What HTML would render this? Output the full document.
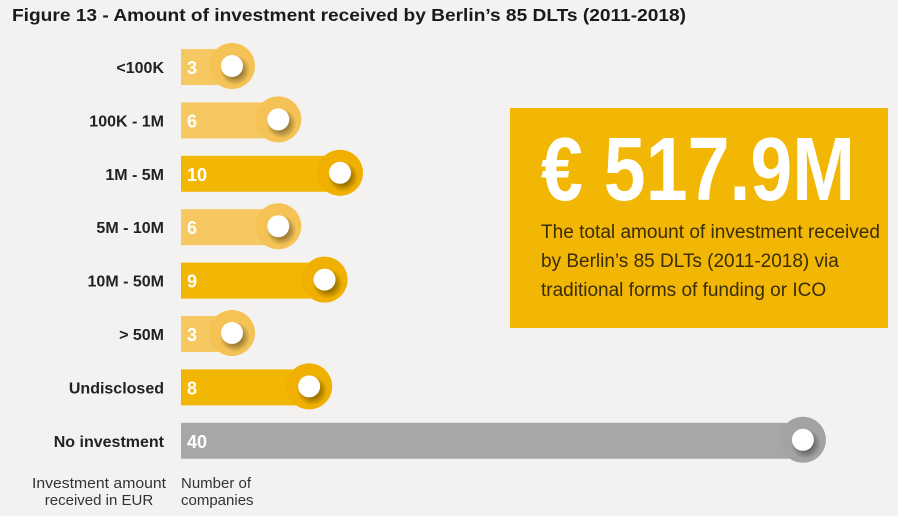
<!DOCTYPE html>
<html><head><meta charset="utf-8"><style>
html,body{margin:0;padding:0;background:#f4f2f0;}
svg{display:block;font-family:"Liberation Sans",sans-serif;}
</style></head><body>
<svg id="chart" width="898" height="516" viewBox="0 0 898 516">
<defs>
<radialGradient id="sh" cx="0.5" cy="0.5" r="0.5"><stop offset="0.5" stop-color="#000" stop-opacity="0.35"/><stop offset="1" stop-color="#000" stop-opacity="0"/></radialGradient>
</defs>
<text x="12" y="21" font-size="17.5" font-weight="bold" fill="#1a1a1a" textLength="674" lengthAdjust="spacingAndGlyphs">Figure 13  - Amount of investment received by Berlin’s 85 DLTs (2011-2018)</text>
<g id="bars"></g>
<text x="99" y="488" font-size="15" fill="#333" text-anchor="middle" textLength="134" lengthAdjust="spacingAndGlyphs">Investment amount</text>
<text x="99" y="505" font-size="15" fill="#333" text-anchor="middle">received in EUR</text>
<text x="181" y="488" font-size="15" fill="#333">Number of</text>
<text x="181" y="505" font-size="15" fill="#333">companies</text>
<rect x="510" y="108" width="378" height="220" fill="#f2b705"/>
<text x="541" y="200" font-size="90" font-weight="bold" fill="#fff" textLength="314" lengthAdjust="spacingAndGlyphs" style="font-family:'Liberation Sans Narrow','Liberation Sans',sans-serif">€ 517.9M</text>
<g font-size="19" fill="#3a2c05">
<text x="541" y="238" textLength="339" lengthAdjust="spacingAndGlyphs">The total amount of investment received</text>
<text x="541" y="267">by Berlin’s 85 DLTs (2011-2018) via</text>
<text x="541" y="296">traditional forms of funding or ICO</text>
</g>
</svg>
<script>
const categories = ["<100K","100K -  1M","1M - 5M","5M - 10M","10M - 50M","> 50M","Undisclosed","No investment"];
const counts = [3,6,10,6,9,3,8,40];
const tones = ["light","light","dark","light","dark","light","dark","gray"];
const NS="http://www.w3.org/2000/svg";
const g=document.getElementById('bars');
const x0=181;
function xEnd(v){return 208.7+15.43*v;}
function yC(i){return 67+i*53.4;}
const fills={light:["#f6c862","#f4c255"],dark:["#f2b705","#efb000"],gray:["#a7a7a7","#a3a3a3"]};
function mk(tag,attrs){const e=document.createElementNS(NS,tag);for(const k in attrs)e.setAttribute(k,attrs[k]);return e;}
categories.forEach((c,i)=>{
  const y=yC(i), end=xEnd(counts[i]), cx=end-23, f=fills[tones[i]];
  const grp=mk('g',{});
  
  
  grp.appendChild(mk('rect',{x:x0,y:y-18,width:cx-x0,height:36,fill:f[0]}));
  grp.appendChild(mk('circle',{cx:cx,cy:y-1,r:23,fill:f[1]}));
  grp.appendChild(mk('circle',{cx:cx+3,cy:y+3,r:15,fill:'url(#sh)'}));
  grp.appendChild(mk('circle',{cx:cx,cy:y-1,r:11,fill:'#fff'}));
  const t=mk('text',{x:x0+6,y:y+7,'font-size':18,'font-weight':'bold',fill:'#fff'});
  t.textContent=counts[i];
  
  
  grp.appendChild(t);
  g.appendChild(grp);
  const l=mk('text',{x:164,y:y+6,'font-size':16,'font-weight':'bold',fill:'#222','text-anchor':'end'});
  l.textContent=c;
  
  
  g.appendChild(l);
});
</script>
</body></html>
